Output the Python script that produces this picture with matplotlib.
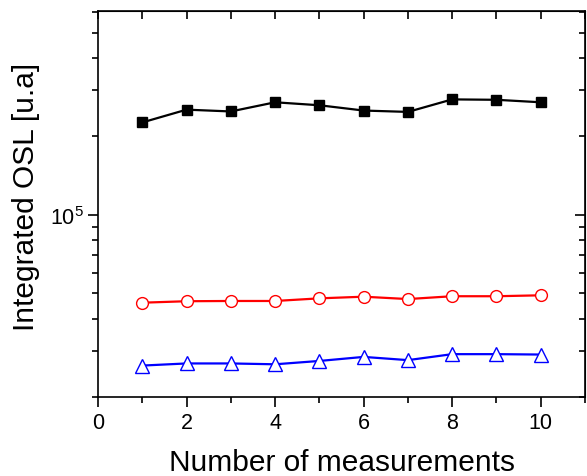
import numpy as np
import matplotlib
matplotlib.use('Agg')
import matplotlib.pyplot as plt
from matplotlib.ticker import LogLocator, MultipleLocator, NullFormatter

plt.rcParams['font.family'] = ['Liberation Sans', 'DejaVu Sans']
plt.rcParams['mathtext.fontset'] = 'custom'
plt.rcParams['mathtext.rm'] = 'Liberation Sans'
plt.rcParams['mathtext.it'] = 'Liberation Sans'
plt.rcParams['mathtext.default'] = 'regular'

# data
n_meas = [1, 2, 3, 4, 5, 6, 7, 8, 9, 10]
black_sq = [2.26e5, 2.53e5, 2.49e5, 2.70e5, 2.63e5, 2.51e5, 2.48e5, 2.77e5, 2.76e5, 2.70e5]
red_circ = [4.60e4, 4.66e4, 4.67e4, 4.67e4, 4.78e4, 4.85e4, 4.75e4, 4.87e4, 4.87e4, 4.91e4]
blue_tri = [2.64e4, 2.69e4, 2.69e4, 2.67e4, 2.75e4, 2.85e4, 2.77e4, 2.92e4, 2.92e4, 2.91e4]

fig = plt.figure(figsize=(5.87, 4.77), dpi=100)
ax = fig.add_axes([0.167, 0.1656, 0.8296, 0.8094])

ax.plot(n_meas, black_sq, '-s', color='black', lw=1.6, ms=7.5, mfc='black', mec='black')
ax.plot(n_meas, red_circ, '-o', color='red', lw=1.6, ms=8.5, mfc='white', mec='red', mew=1.0)
ax.plot(n_meas, blue_tri, '-^', color='blue', lw=1.6, ms=10.5, mfc='white', mec='blue', mew=1.0)

ax.set_yscale('log')
ax.set_ylim(2e4, 6.05e5)
ax.set_xlim(0, 11)

ax.xaxis.set_major_locator(MultipleLocator(2))
ax.xaxis.set_minor_locator(MultipleLocator(1))
ax.yaxis.set_major_locator(LogLocator(base=10))
ax.yaxis.set_minor_locator(LogLocator(base=10, subs=np.arange(2, 10)))
ax.yaxis.set_minor_formatter(NullFormatter())

ax.tick_params(which='both', direction='out', labelsize=15.5, width=1.2)
ax.tick_params(which='major', length=7)
ax.tick_params(which='minor', length=4)
ax.set_xticks([0, 2, 4, 6, 8, 10])

for s in ax.spines.values():
    s.set_linewidth(1.2)

# inward ticks on top and right
top = ax.secondary_xaxis('top')
top.xaxis.set_major_locator(MultipleLocator(1))
top.tick_params(direction='in', length=6, width=1.2, labeltop=False)
right = ax.secondary_yaxis('right')
right.set_yscale('log')
right.yaxis.set_major_locator(LogLocator(base=10))
right.yaxis.set_minor_locator(LogLocator(base=10, subs=np.arange(2, 10)))
right.tick_params(which='both', direction='in', width=1.2, labelright=False)
right.tick_params(which='major', length=7)
right.tick_params(which='minor', length=4)
right.yaxis.set_minor_formatter(NullFormatter())

ax.set_xlabel('Number of measurements', fontsize=21.5, labelpad=11)
ax.set_ylabel('Integrated OSL [u.a]', fontsize=21.5)
ax.yaxis.set_label_coords(-0.12, 0.52)

fig.savefig('out.png', dpi=100)
